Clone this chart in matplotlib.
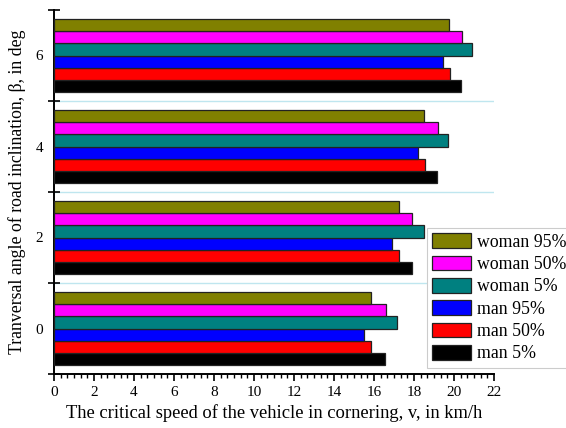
import numpy as np
import matplotlib
matplotlib.use("Agg")
import matplotlib.pyplot as plt
from matplotlib.ticker import MultipleLocator, FixedLocator

plt.rcParams['font.family'] = ['Liberation Serif', 'DejaVu Serif']

# inclination angles (deg) -> one group each
angles = ['0', '2', '4', '6']

# critical speed, km/h
man_5 = [16.55, 17.88, 19.17, 20.37]
man_50 = [15.85, 17.23, 18.53, 19.78]
man_95 = [15.52, 16.88, 18.18, 19.43]
woman_5 = [17.17, 18.48, 19.70, 20.90]
woman_50 = [16.60, 17.92, 19.20, 20.40]
woman_95 = [15.83, 17.23, 18.52, 19.75]

series = [man_5, man_50, man_95, woman_5, woman_50, woman_95]
labels = ['man 5%', 'man 50%', 'man 95%', 'woman 5%', 'woman 50%', 'woman 95%']
colors = ['#000000', '#ff0000', '#0000ff', '#008080', '#ff00ff', '#808000']

fig = plt.figure(figsize=(5.66, 4.28), dpi=100)
ax = fig.add_axes([54 / 566, 1 - 374 / 428, 440 / 566, 364 / 428])

y = np.arange(len(angles))
h = 0.8 / len(series)
handles = []
for i, (vals, lab, col) in enumerate(zip(series, labels, colors)):
    off = -0.4 + h * (i + 0.5)
    b = ax.barh(y + off, vals, height=h, color=col, edgecolor='#222222',
                linewidth=0.9, label=lab, zorder=3)
    handles.append(b)

# light separators between groups
for yy in [0.5, 1.5, 2.5]:
    ax.axhline(yy, color='#bfe6ef', lw=1.0, zorder=1)

ax.set_xlim(0, 22)
ax.set_ylim(-0.5, 3.5)

ax.xaxis.set_major_locator(MultipleLocator(2))
ax.xaxis.set_minor_locator(MultipleLocator(2 / 6))
ax.tick_params(axis='x', which='major', direction='out', length=5, width=1.2,
               labelsize=11, pad=4)
ax.tick_params(axis='x', which='minor', direction='out', length=3, width=1.0)

ax.yaxis.set_major_locator(FixedLocator([-0.5, 0.5, 1.5, 2.5, 3.5]))
ax.yaxis.set_minor_locator(FixedLocator(y))
ax.set_yticklabels([], minor=False)
ax.set_yticklabels(angles, minor=True)
ax.tick_params(axis='y', which='major', direction='inout', length=8, width=1.2)
ax.tick_params(axis='y', which='minor', length=0, labelsize=11, pad=8)

for s in ['top', 'right']:
    ax.spines[s].set_visible(False)
for s in ['left', 'bottom']:
    ax.spines[s].set_linewidth(1.4)

ax.set_xlabel('The critical speed of the vehicle in cornering, v, in km/h',
              fontsize=13.3, labelpad=3)
ax.set_ylabel('Tranversal angle of road inclination, \u03b2, in deg',
              fontsize=12.8, labelpad=7)

leg = fig.legend(handles[::-1], labels[::-1], loc='upper left',
                 bbox_to_anchor=(427 / 566, 1 - 228 / 428),
                 fontsize=12.8, frameon=True, fancybox=False,
                 edgecolor='#cccccc', framealpha=1,
                 handlelength=2.2, handleheight=0.9, handletextpad=0.3,
                 labelspacing=0.27, borderpad=0.3, borderaxespad=0)
leg.get_frame().set_linewidth(0.8)

fig.savefig('out.png', dpi=100)
